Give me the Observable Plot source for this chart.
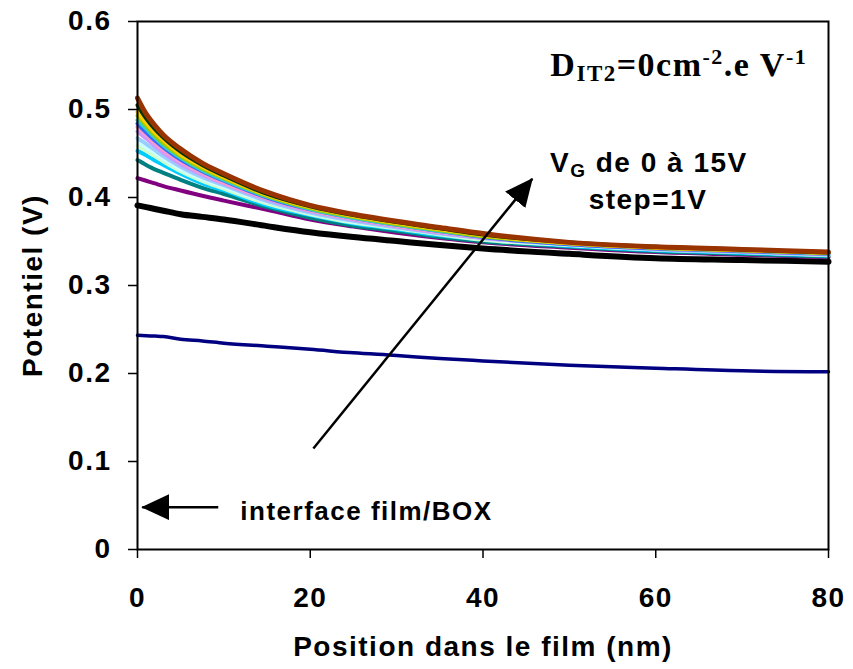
<!DOCTYPE html>
<html><head><meta charset="utf-8">
<script src="https://cdn.jsdelivr.net/npm/d3@7"></script>
<script src="https://cdn.jsdelivr.net/npm/@observablehq/plot@0.6"></script>
<style>body{margin:0;background:#fff}</style>
</head><body><div id="chart"></div>
<script>
// ---- data ----
const xPos = [0, 1, 2, 3, 5, 7.5, 10, 15, 20, 25, 30, 35, 40, 50, 60, 70, 80];
const vg0  = [0.2435, 0.243, 0.2425, 0.242, 0.239, 0.237, 0.2345, 0.231, 0.2275, 0.2235, 0.2205, 0.217, 0.2143, 0.2095, 0.206, 0.203, 0.202];
const vg1  = [0.391, 0.389, 0.387, 0.385, 0.381, 0.378, 0.375, 0.3675, 0.3605, 0.355, 0.3505, 0.346, 0.342, 0.336, 0.331, 0.329, 0.327];
const vg2  = [0.422, 0.419, 0.416, 0.413, 0.408, 0.402, 0.3965, 0.386, 0.375, 0.367, 0.360, 0.354, 0.349, 0.343, 0.338, 0.335, 0.332];
const vg3  = [0.4425, 0.437, 0.432, 0.428, 0.420, 0.411, 0.404, 0.389, 0.377, 0.368, 0.362, 0.355, 0.350, 0.344, 0.339, 0.336, 0.333];
const vg4  = [0.453, 0.448, 0.442, 0.437, 0.427, 0.416, 0.408, 0.391, 0.380, 0.3705, 0.364, 0.357, 0.352, 0.345, 0.340, 0.337, 0.334];
const vg5  = [0.459, 0.453, 0.447, 0.441, 0.430, 0.419, 0.410, 0.393, 0.381, 0.3715, 0.365, 0.358, 0.352, 0.346, 0.341, 0.338, 0.3345];
const vg6  = [0.464, 0.457, 0.451, 0.444, 0.432, 0.421, 0.412, 0.395, 0.382, 0.3725, 0.366, 0.359, 0.353, 0.346, 0.341, 0.338, 0.335];
const vg7  = [0.4675, 0.461, 0.454, 0.447, 0.435, 0.423, 0.414, 0.396, 0.383, 0.3735, 0.366, 0.359, 0.354, 0.347, 0.341, 0.338, 0.335];
const vg8  = [0.475, 0.467, 0.459, 0.451, 0.438, 0.426, 0.416, 0.398, 0.3845, 0.375, 0.367, 0.360, 0.354, 0.347, 0.342, 0.339, 0.3355];
const vg9  = [0.480, 0.471, 0.462, 0.454, 0.441, 0.428, 0.417, 0.399, 0.3855, 0.376, 0.368, 0.361, 0.355, 0.347, 0.342, 0.339, 0.336];
const vg10 = [0.484, 0.474, 0.465, 0.457, 0.443, 0.430, 0.419, 0.400, 0.3865, 0.377, 0.369, 0.362, 0.355, 0.347, 0.342, 0.339, 0.336];
const vg11 = [0.488, 0.478, 0.468, 0.459, 0.445, 0.431, 0.420, 0.401, 0.387, 0.377, 0.369, 0.362, 0.356, 0.348, 0.343, 0.340, 0.3365];
const vg12 = [0.493, 0.482, 0.471, 0.462, 0.447, 0.433, 0.422, 0.402, 0.388, 0.378, 0.370, 0.363, 0.356, 0.348, 0.343, 0.340, 0.337];
const vg13 = [0.497, 0.485, 0.474, 0.465, 0.449, 0.435, 0.423, 0.403, 0.389, 0.379, 0.371, 0.364, 0.357, 0.348, 0.343, 0.340, 0.337];
const vg14 = [0.505, 0.490, 0.478, 0.468, 0.452, 0.437, 0.425, 0.404, 0.390, 0.380, 0.372, 0.365, 0.358, 0.349, 0.344, 0.341, 0.3375];
const vg15 = [0.513, 0.495, 0.482, 0.471, 0.455, 0.439, 0.427, 0.406, 0.391, 0.381, 0.373, 0.366, 0.359, 0.349, 0.344, 0.341, 0.338];
const seriesValues = [vg0, vg1, vg2, vg3, vg4, vg5, vg6, vg7, vg8, vg9, vg10, vg11, vg12, vg13, vg14, vg15];
const seriesNames = seriesValues.map((_, i) => `VG=${i}V`);

const xTicks = [0, 20, 40, 60, 80];
const xTickLabels = ["0", "20", "40", "60", "80"];
const yTicks = [0, 0.1, 0.2, 0.3, 0.4, 0.5, 0.6];
const yTickLabels = ["0", "0.1", "0.2", "0.3", "0.4", "0.5", "0.6"];

const xLabel = "Position dans le film (nm)";
const yLabel = "Potentiel (V)";
const ditText = "DIT2=0cm-2.e V-1";
const vgText = "VG de 0 à 15V";
const stepText = "step=1V";
const filmText = "interface film/BOX";

// annotation anchor points (data coordinates)
const ditAt = [47.8, 0.5386];
const vgAt = [59.2, 0.4288];
const stepAt = [59.1, 0.3875];
const filmAt = [11.9, 0.033];
const filmArrowFrom = [9.35, 0.0481];
const filmArrowTo = [0.55, 0.0481];
const vgArrowFrom = [20.36, 0.1148];
const vgArrowTo = [45.7, 0.4212];

// ---- styles ----
const seriesColors = ["#000080", "#000000", "#800080", "#008080", "#00CCFF", "#CCFFCC", "#CCFFFF", "#99CCFF",
  "#CC99FF", "#FF99CC", "#3366FF", "#33CCCC", "#99CC00", "#FFCC00", "#003300", "#993300"];
const seriesWidths = [3.5, 6, 4, 4, 4, 4, 4, 4, 4, 4, 4, 4, 4, 4, 4, 5];

const rows = seriesValues.flatMap((vals, s) => vals.map((v, i) => ({x: xPos[i], y: v, s})));

const lineMarks = seriesValues.map((_, s) =>
  Plot.line(rows.filter(r => r.s === s), {x: "x", y: "y", stroke: seriesColors[s], strokeWidth: seriesWidths[s], curve: "monotone-x", ariaDescription: seriesNames[s]})
);

const plot = Plot.plot({
  width: 853, height: 669,
  marginLeft: 137, marginRight: 25, marginTop: 21, marginBottom: 120,
  x: {domain: [0, 80], label: null},
  y: {domain: [0, 0.6], label: null},
  style: {fontFamily: "'Liberation Sans', Arial, sans-serif", fontSize: "28px", fontWeight: "bold", letterSpacing: "1.5px", color: "black", background: "white", overflow: "visible"},
  marks: [
    Plot.axisX({ticks: xTicks, tickFormat: d => xTickLabels[xTicks.indexOf(d)], tickSize: 9, tickPadding: 29, strokeWidth: 1.5, label: null}),
    Plot.axisY({ticks: yTicks, tickFormat: d => yTickLabels[yTicks.indexOf(d)], tickSize: 9, tickPadding: 17, strokeWidth: 1.5, label: null}),
    ...lineMarks,
    Plot.frame({stroke: "black", strokeWidth: 2}),
    Plot.link([0], {x1: () => filmArrowFrom[0], y1: () => filmArrowFrom[1], x2: () => filmArrowTo[0], y2: () => filmArrowTo[1], stroke: "black", strokeWidth: 2.5, ariaDescription: "arrow-film"}),
    Plot.link([0], {x1: () => vgArrowFrom[0], y1: () => vgArrowFrom[1], x2: () => vgArrowTo[0], y2: () => vgArrowTo[1], stroke: "black", strokeWidth: 2.5, ariaDescription: "arrow-vg"}),
    Plot.text([ditText], {x: () => ditAt[0], y: () => ditAt[1], text: d => d, textAnchor: "start", lineAnchor: "bottom", fontFamily: "'Liberation Serif', 'Times New Roman', serif", fontSize: 34, ariaDescription: "dit"}),
    Plot.text([vgText], {x: () => vgAt[0], y: () => vgAt[1], text: d => d, textAnchor: "middle", lineAnchor: "bottom", fontSize: 28, ariaDescription: "vg"}),
    Plot.text([stepText], {x: () => stepAt[0], y: () => stepAt[1], text: d => d, textAnchor: "middle", lineAnchor: "bottom", fontSize: 28}),
    Plot.text([filmText], {x: () => filmAt[0], y: () => filmAt[1], text: d => d, textAnchor: "start", lineAnchor: "bottom", fontSize: 26}),
    Plot.text([xLabel], {frameAnchor: "bottom", dy: 106, text: d => d, textAnchor: "middle", lineAnchor: "bottom", fontSize: 28}),
    Plot.text([yLabel], {frameAnchor: "left", dx: -104, rotate: -90, text: d => d, textAnchor: "middle", lineAnchor: "middle", fontSize: 28})
  ]
});

// ---- post-processing: filled arrow heads and sub/superscripts ----
const ns = "http://www.w3.org/2000/svg";
const defs = document.createElementNS(ns, "defs");
const marker = document.createElementNS(ns, "marker");
marker.setAttribute("id", "triHead");
marker.setAttribute("viewBox", "0 -13 28 26");
marker.setAttribute("refX", "27");
marker.setAttribute("refY", "0");
marker.setAttribute("markerWidth", "28");
marker.setAttribute("markerHeight", "26");
marker.setAttribute("markerUnits", "userSpaceOnUse");
marker.setAttribute("orient", "auto");
const mp = document.createElementNS(ns, "path");
mp.setAttribute("d", "M0,-13L28,0L0,13Z");
mp.setAttribute("fill", "black");
mp.setAttribute("stroke", "none");
marker.appendChild(mp);
defs.appendChild(marker);
plot.insertBefore(defs, plot.firstChild);
for (const lbl of ["arrow-film", "arrow-vg"]) {
  plot.querySelectorAll(`g[aria-description="${lbl}"] path`).forEach(p => p.setAttribute("marker-end", "url(#triHead)"));
}

function rich(label, parts) {
  const t = plot.querySelector(`g[aria-description="${label}"] text`);
  if (!t) return;
  t.removeAttribute("dy");
  t.textContent = "";
  let cur = 0;
  for (const p of parts) {
    const ts = document.createElementNS(ns, "tspan");
    ts.textContent = p.t;
    if (p.size) ts.style.fontSize = p.size + "px";
    const s = p.shift || 0;
    if (s !== cur) { ts.setAttribute("dy", s - cur); cur = s; }
    t.appendChild(ts);
  }
}
rich("dit", [
  {t: "D"}, {t: "IT2", size: 23, shift: 5}, {t: "=0cm", shift: 0}, {t: "-2", size: 22, shift: -12},
  {t: ".e V", shift: 0}, {t: "-1", size: 22, shift: -12}
]);
rich("vg", [{t: "V"}, {t: "G", size: 19, shift: 5}, {t: " de 0 à 15V", shift: 0}]);

document.getElementById("chart").appendChild(plot);
</script>
</body></html>
